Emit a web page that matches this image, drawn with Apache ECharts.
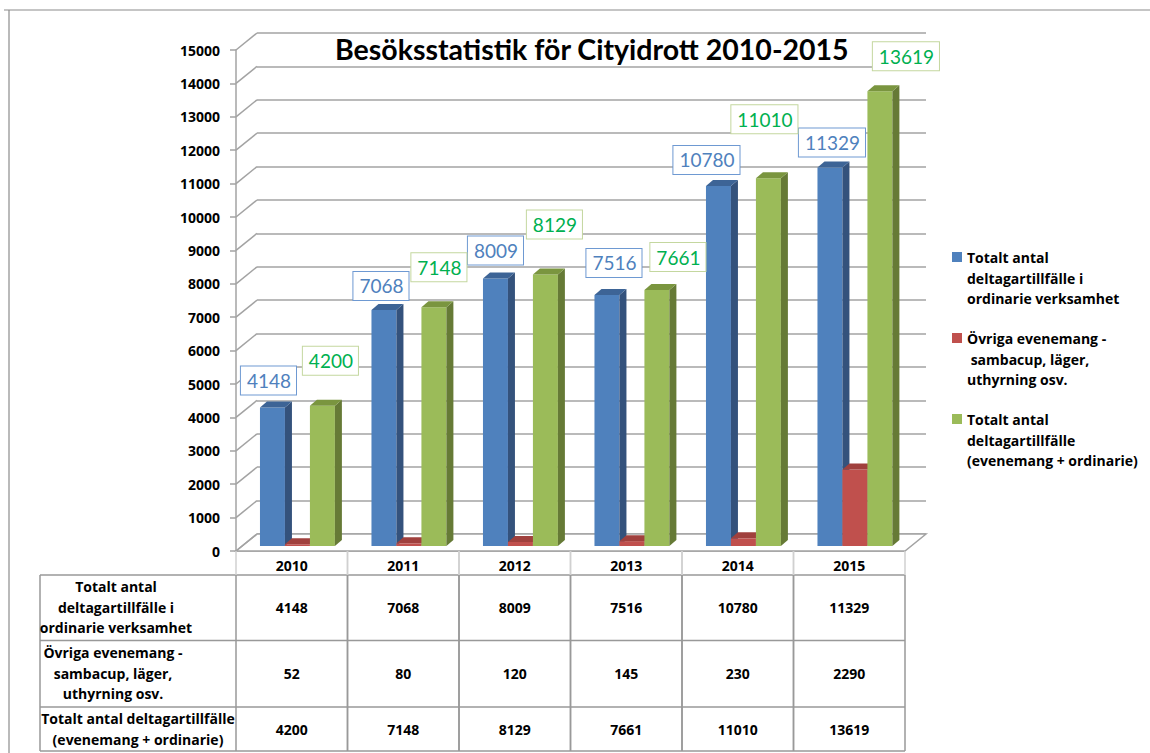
<!DOCTYPE html>
<html>
<head>
<meta charset="utf-8">
<title>Besöksstatistik</title>
<script src="https://cdn.jsdelivr.net/npm/echarts@6/dist/echarts.min.js"></script>
<style>
html,body{margin:0;padding:0;background:#fff;}
#chart{width:1150px;height:753px;}
</style>
</head>
<body>
<div id="chart"></div>
<script>
// data
var years = ['2010', '2011', '2012', '2013', '2014', '2015'];
var ordinarie = [4148, 7068, 8009, 7516, 10780, 11329];
var ovriga = [52, 80, 120, 145, 230, 2290];
var totalt = [4200, 7148, 8129, 7661, 11010, 13619];
var yTicks = [0, 1000, 2000, 3000, 4000, 5000, 6000, 7000, 8000, 9000, 10000, 11000, 12000, 13000, 14000, 15000];

var legendNames = [
    'Totalt antal\ndeltagartillfälle i\nordinarie verksamhet',
    'Övriga evenemang -\n sambacup, läger,\nuthyrning osv.',
    'Totalt antal\ndeltagartillfälle\n(evenemang + ordinarie)'
];
var rowNames = [
    'Totalt antal\ndeltagartillfälle i\nordinarie verksamhet',
    'Övriga evenemang -\nsambacup, läger,\nuthyrning osv.',
    'Totalt antal deltagartillfälle\n(evenemang + ordinarie)'
];

// where the value boxes were dragged to (offset from bar top centre)
var blueLabelNudge = [[-4, -27], [-3, -24], [0, -28], [7, -32], [-12, -26], [2, -25]];
var greenLabelNudge = [[8, -45], [5, -40], [9, -50], [21, -33], [-4, -59], [26, -35]];

var font = 'Lato';
var boldFont = '"Open Sans"';
var gridColor = '#A3A3A3';
var depthX = 21, depthY = 17;     // back wall offset
var barDX = 7, barDY = -6;        // bar side/top depth

var faceColors = [
    {front: '#4F81BD', side: '#34527C', top: '#3D6496'},
    {front: '#C0504D', side: '#8C3836', top: '#A0403D'},
    {front: '#9BBB59', side: '#667A36', top: '#7A953F'}
];

function barItem(slot, nudge, labelColor, borderColor) {
    return function (params, api) {
        var i = api.value(0);
        var v = api.value(1);
        var top = api.coord([i, v]);
        var base = api.coord([i, 0]);
        var band = api.size([1, 0])[0];
        var x0 = top[0] - band / 2 + band * (0.215 + 0.224 * slot);
        var x1 = x0 + band * 0.224;
        var y0 = top[1], y1 = base[1];
        var c = faceColors[slot];
        var kids = [
            {type: 'polygon', shape: {points: [[x0, y0], [x1, y0], [x1, y1], [x0, y1]]}, style: {fill: c.front}},
            {type: 'polygon', shape: {points: [[x1, y0], [x1 + barDX, y0 + barDY], [x1 + barDX, y1 + barDY], [x1, y1]]}, style: {fill: c.side}},
            {type: 'polygon', shape: {points: [[x0, y0], [x0 + barDX, y0 + barDY], [x1 + barDX, y0 + barDY], [x1, y0]]}, style: {fill: c.top}}
        ];
        if (nudge) {
            kids.push({
                type: 'text',
                z2: 100,
                x: (x0 + x1) / 2 + nudge[i][0],
                y: y0 + nudge[i][1],
                style: {
                    text: String(v),
                    font: '19px ' + font,
                    fill: labelColor,
                    align: 'center',
                    verticalAlign: 'middle',
                    backgroundColor: '#fff',
                    borderColor: borderColor,
                    borderWidth: 1,
                    padding: [5, 5, 4, 6]
                }
            });
        }
        return {type: 'group', children: kids};
    };
}

var rowY = [607, 673, 729];
var cellFont = 'bold 14px ' + boldFont;

var option = {
    animation: false,
    backgroundColor: '#fff',
    title: {
        text: 'Besöksstatistik för Cityidrott 2010-2015',
        left: 335,
        top: 34,
        padding: 0,
        textStyle: {fontFamily: font, fontWeight: 'bold', fontSize: 28.5, color: '#000'}
    },
    legend: {
        orient: 'vertical',
        left: 952,
        top: 247,
        padding: 0,
        itemWidth: 10,
        itemHeight: 62,
        itemGap: 19,
        selectedMode: false,
        textStyle: {fontFamily: boldFont, fontWeight: 'bold', fontSize: 14, lineHeight: 20.5, color: '#000'},
        data: legendNames.map(function (n, k) {
            return {name: n, icon: 'path://M0,0L0.01,0M0,5L10,5L10,15L0,15ZM0,62L0.01,62', itemStyle: {color: faceColors[k].front}};
        })
    },
    grid: [
        {left: 236, width: 669, top: 45, height: 501},   // bar plane
        {left: 236, width: 669, top: 50, height: 501},   // front axis
        {left: 236 + depthX, width: 669, top: 50 - depthY, height: 501}  // back wall
    ],
    xAxis: [
        {type: 'category', gridIndex: 0, data: years, show: false},
        {type: 'category', gridIndex: 1, data: years,
            axisLine: {lineStyle: {color: gridColor, width: 1.5}},
            axisTick: {show: false},
            axisLabel: {margin: 7, fontFamily: boldFont, fontWeight: 'bold', fontSize: 14, color: '#000'}},
        {type: 'value', gridIndex: 2, min: 0, max: 1, show: false}
    ],
    yAxis: [
        {type: 'value', gridIndex: 0, min: 0, max: 15000, show: false},
        {type: 'value', gridIndex: 1, min: 0, max: 15000, interval: 1000,
            axisLine: {show: true, lineStyle: {color: gridColor, width: 1.5}},
            axisTick: {show: true, length: 6, lineStyle: {color: gridColor, width: 1.5}},
            splitLine: {show: false},
            axisLabel: {margin: 16, fontFamily: boldFont, fontWeight: 'bold', fontSize: 14, color: '#000',
                formatter: function (v) { return String(v); }}},
        {type: 'value', gridIndex: 2, min: 0, max: 15000, interval: 1000,
            axisLine: {show: false}, axisTick: {show: false}, axisLabel: {show: false},
            splitLine: {lineStyle: {color: gridColor, width: 1.5}}}
    ],
    series: [
        {   // floor
            type: 'custom', xAxisIndex: 2, yAxisIndex: 2, silent: true, z: 1,
            data: [[0, 0]],
            renderItem: function (params, api) {
                var a = api.coord([0, 0]), b = api.coord([1, 0]);
                return {type: 'polygon', shape: {points: [a, b, [b[0] - depthX, b[1] + depthY], [a[0] - depthX, a[1] + depthY]]},
                    style: {fill: '#fff', stroke: gridColor, lineWidth: 1.5}};
            }
        },
        {   // side wall lines
            type: 'custom', xAxisIndex: 2, yAxisIndex: 2, silent: true, z: 1,
            data: yTicks.map(function (t) { return [0, t]; }),
            renderItem: function (params, api) {
                var p = api.coord([0, api.value(1)]);
                return {type: 'line', shape: {x1: p[0], y1: p[1], x2: p[0] - depthX, y2: p[1] + depthY},
                    style: {stroke: gridColor, lineWidth: 1.5}};
            }
        },
        {
            name: legendNames[0], type: 'custom', xAxisIndex: 0, yAxisIndex: 0,
            itemStyle: {color: faceColors[0].front},
            data: ordinarie.map(function (v, i) { return [i, v]; }),
            renderItem: barItem(0, blueLabelNudge, '#4F81BD', '#6E99D2')
        },
        {
            name: legendNames[1], type: 'custom', xAxisIndex: 0, yAxisIndex: 0,
            itemStyle: {color: faceColors[1].front},
            data: ovriga.map(function (v, i) { return [i, v]; }),
            renderItem: barItem(1, null)
        },
        {
            name: legendNames[2], type: 'custom', xAxisIndex: 0, yAxisIndex: 0,
            itemStyle: {color: faceColors[2].front},
            data: totalt.map(function (v, i) { return [i, v]; }),
            renderItem: barItem(2, greenLabelNudge, '#00B050', '#C4D79F')
        },
        {   // data table below the axis
            type: 'custom', xAxisIndex: 1, yAxisIndex: 1, silent: true,
            data: years.map(function (y, i) { return [i, 0, ordinarie[i], ovriga[i], totalt[i]]; }),
            renderItem: function (params, api) {
                var i = api.value(0);
                var p = api.coord([i, 0]);
                var band = api.size([1, 0])[0];
                var l = p[0] - band / 2, r = p[0] + band / 2;
                var kids = [
                    {type: 'line', shape: {x1: l, y1: p[1], x2: l, y2: 575}, style: {stroke: '#D0D0D0', lineWidth: 1.5}},
                    {type: 'line', shape: {x1: r, y1: p[1], x2: r, y2: 575}, style: {stroke: '#D0D0D0', lineWidth: 1.5}},
                    {type: 'line', shape: {x1: l, y1: 575, x2: l, y2: 751}, style: {stroke: '#999', lineWidth: 1.5}},
                    {type: 'line', shape: {x1: r, y1: 575, x2: r, y2: 751}, style: {stroke: '#999', lineWidth: 1.5}}
                ];
                for (var k = 0; k < 3; k++) {
                    kids.push({type: 'text', x: p[0], y: rowY[k],
                        style: {text: String(api.value(2 + k)), font: cellFont, fill: '#000', align: 'center', verticalAlign: 'middle'}});
                }
                return {type: 'group', children: kids};
            }
        }
    ],
    graphic: [
        // outer frame
        {type: 'line', silent: true, shape: {x1: 4, y1: 10, x2: 1150, y2: 10}, style: {stroke: '#8C8C8C', lineWidth: 1.2}},
        {type: 'line', silent: true, shape: {x1: 9, y1: 10, x2: 9, y2: 753}, style: {stroke: '#8C8C8C', lineWidth: 1.2}},
        // table rows
        {type: 'line', silent: true, shape: {x1: 40, y1: 575, x2: 905, y2: 575}, style: {stroke: '#999', lineWidth: 1.5}},
        {type: 'line', silent: true, shape: {x1: 40, y1: 640.5, x2: 905, y2: 640.5}, style: {stroke: '#999', lineWidth: 1.5}},
        {type: 'line', silent: true, shape: {x1: 40, y1: 707, x2: 905, y2: 707}, style: {stroke: '#999', lineWidth: 1.5}},
        {type: 'line', silent: true, shape: {x1: 40, y1: 751, x2: 905, y2: 751}, style: {stroke: '#999', lineWidth: 1.5}},
        {type: 'line', silent: true, shape: {x1: 40, y1: 575, x2: 40, y2: 751}, style: {stroke: '#999', lineWidth: 1.5}},
        {type: 'text', silent: true, x: 116, y: rowY[0], style: {text: rowNames[0], font: cellFont, lineHeight: 20.5, fill: '#000', align: 'center', verticalAlign: 'middle'}},
        {type: 'text', silent: true, x: 113, y: rowY[1], style: {text: rowNames[1], font: cellFont, lineHeight: 20.5, fill: '#000', align: 'center', verticalAlign: 'middle'}},
        {type: 'text', silent: true, x: 138, y: rowY[2], style: {text: rowNames[2], font: cellFont, lineHeight: 20.5, fill: '#000', align: 'center', verticalAlign: 'middle'}}
    ]
};

var chart = echarts.init(document.getElementById('chart'), null, {renderer: 'svg'});
chart.setOption(option);
window.addEventListener('resize', function () {
    chart.resize();
});
</script>
</body>
</html>
